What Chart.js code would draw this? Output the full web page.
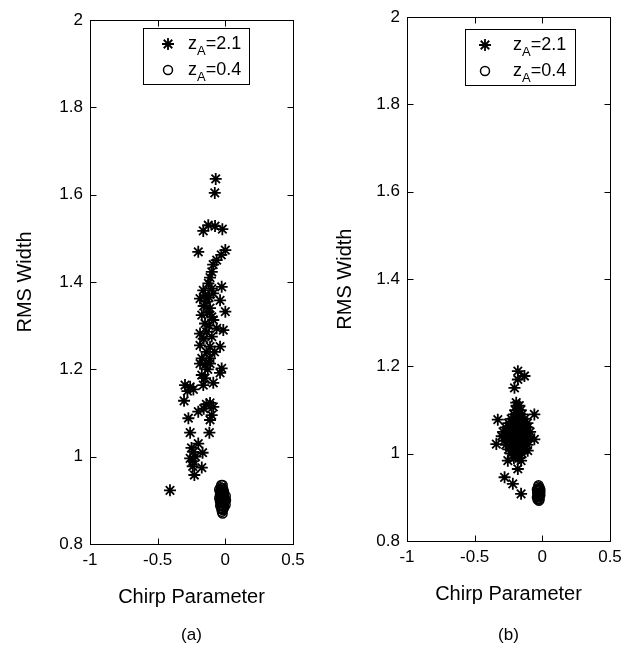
<!DOCTYPE html>
<html>
<head>
<meta charset="utf-8">
<script src="https://cdn.jsdelivr.net/npm/chart.js@4"></script>
<style>
  body { margin: 0; background: #fff; }
  .panel { position: absolute; top: 0; height: 646px; }
</style>
</head>
<body>
<div class="panel" style="left:0;width:316px"><canvas id="chartA" width="316" height="646"></canvas></div>
<div class="panel" style="left:316px;width:317px"><canvas id="chartB" width="317" height="646"></canvas></div>
<script>
const FONT = "'Liberation Sans', Arial, Helvetica, sans-serif";

// ============ DATA ============
const xTicks = [-1, -0.5, 0, 0.5];
const xTickLabels = ["-1", "-0.5", "0", "0.5"];
const yTicks = [0.8, 1, 1.2, 1.4, 1.6, 1.8, 2];
const yTickLabels = ["0.8", "1", "1.2", "1.4", "1.6", "1.8", "2"];
const seriesLabels = ["z_A=2.1", "z_A=0.4"];

// panel (a), z_A = 2.1
const starsA = [
  [-0.071, 1.636], [-0.078, 1.604],
  [-0.163, 1.517], [-0.126, 1.530], [-0.076, 1.528], [-0.022, 1.521],
  [-0.2, 1.469],
  [0.0, 1.473], [-0.03, 1.462], [-0.064, 1.45], [-0.09, 1.44], [-0.1, 1.423], [-0.113, 1.41], [-0.125, 1.397],
  [-0.163, 1.381], [-0.027, 1.389], [-0.089, 1.374], [-0.187, 1.362], [-0.138, 1.355], [-0.039, 1.358],
  [-0.113, 1.34], [0.0, 1.332], [-0.174, 1.324], [-0.089, 1.313], [-0.015, 1.29], [-0.187, 1.282],
  [-0.138, 1.286], [-0.064, 1.294], [-0.187, 1.255], [-0.113, 1.252], [-0.039, 1.252], [-0.174, 1.225],
  [-0.113, 1.225], [-0.027, 1.202],
  [-0.15, 1.37], [-0.12, 1.365], [-0.1, 1.385], [-0.16, 1.345], [-0.13, 1.33], [-0.1, 1.32],
  [-0.15, 1.305], [-0.12, 1.3], [-0.16, 1.27], [-0.1, 1.275], [-0.14, 1.24], [-0.08, 1.24], [-0.15, 1.21],
  [-0.187, 1.213], [-0.113, 1.213], [-0.174, 1.187], [-0.039, 1.192], [-0.298, 1.164], [-0.236, 1.154],
  [-0.163, 1.164], [-0.089, 1.169], [-0.28, 1.15], [-0.305, 1.128], [-0.113, 1.123], [-0.089, 1.114],
  [-0.2, 1.103], [-0.273, 1.088], [-0.101, 1.095], [-0.113, 1.084], [-0.26, 1.055], [-0.118, 1.055],
  [-0.2, 1.03], [-0.236, 1.011], [-0.168, 1.009], [-0.26, 0.996], [-0.241, 0.978], [-0.174, 0.975],
  [-0.229, 0.958], [-0.409, 0.923],
  [-0.13, 1.2], [-0.15, 1.18], [-0.26, 1.16], [-0.25, 1.02], [-0.22, 1.0], [-0.24, 0.99], [-0.16, 1.11], [-0.14, 1.12]
];

// panel (a), z_A = 0.4
const circlesA = [
  [-0.03, 0.935], [-0.02, 0.935], [-0.035, 0.93], [-0.025, 0.928], [-0.015, 0.925], [-0.035, 0.92],
  [-0.02, 0.918], [-0.04, 0.912], [-0.025, 0.91], [-0.01, 0.912], [-0.035, 0.905], [-0.02, 0.902],
  [-0.005, 0.905], [0.0, 0.898], [-0.04, 0.898], [-0.028, 0.895], [-0.012, 0.892], [0.002, 0.89],
  [-0.038, 0.888], [-0.022, 0.886], [-0.008, 0.884], [-0.03, 0.88], [-0.018, 0.878], [-0.025, 0.874],
  [-0.04, 0.92], [-0.03, 0.915], [0.005, 0.9], [-0.015, 0.898], [-0.03, 0.925], [-0.045, 0.905],
  [-0.01, 0.92], [-0.045, 0.925], [0.003, 0.91], [-0.02, 0.87],
  [-0.025, 0.92], [-0.015, 0.915], [-0.03, 0.9], [-0.02, 0.893], [-0.01, 0.9], [-0.025, 0.905],
  [-0.035, 0.912], [-0.015, 0.88], [-0.03, 0.888], [-0.02, 0.928], [-0.015, 0.908], [-0.025, 0.882]
];

// panel (b), z_A = 2.1
const starsB = [
  [-0.181, 1.189], [-0.132, 1.178], [-0.181, 1.170], [-0.206, 1.151], [-0.193, 1.117], [-0.329, 1.078],
  [-0.059, 1.090], [-0.34, 1.022], [-0.059, 1.033], [-0.108, 1.007], [-0.255, 0.984], [-0.157, 0.984],
  [-0.181, 0.965], [-0.279, 0.946], [-0.218, 0.931], [-0.157, 0.908],
  [-0.19, 1.11], [-0.17, 1.11],
  [-0.2, 1.10], [-0.18, 1.10], [-0.16, 1.10],
  [-0.21, 1.09], [-0.18, 1.09], [-0.15, 1.09],
  [-0.23, 1.08], [-0.2, 1.08], [-0.17, 1.08], [-0.13, 1.08],
  [-0.25, 1.07], [-0.21, 1.07], [-0.18, 1.07], [-0.14, 1.07], [-0.11, 1.07],
  [-0.27, 1.06], [-0.23, 1.06], [-0.19, 1.06], [-0.15, 1.06], [-0.11, 1.06],
  [-0.29, 1.05], [-0.25, 1.05], [-0.21, 1.05], [-0.17, 1.05], [-0.13, 1.05], [-0.09, 1.05],
  [-0.3, 1.04], [-0.26, 1.04], [-0.22, 1.04], [-0.18, 1.04], [-0.14, 1.04], [-0.1, 1.04],
  [-0.28, 1.03], [-0.24, 1.03], [-0.2, 1.03], [-0.16, 1.03], [-0.12, 1.03],
  [-0.27, 1.02], [-0.23, 1.02], [-0.19, 1.02], [-0.15, 1.02], [-0.11, 1.02],
  [-0.25, 1.01], [-0.21, 1.01], [-0.17, 1.01], [-0.13, 1.01],
  [-0.23, 1.0], [-0.19, 1.0], [-0.15, 1.0],
  [-0.21, 0.99], [-0.17, 0.99]
];

// panel (b), z_A = 0.4
const circlesB = [
  [-0.03, 0.925], [-0.02, 0.922], [-0.04, 0.918], [-0.025, 0.915], [-0.015, 0.912], [-0.038, 0.91],
  [-0.028, 0.906], [-0.018, 0.903], [-0.04, 0.9], [-0.03, 0.897], [-0.02, 0.895], [-0.032, 0.92],
  [-0.022, 0.91], [-0.035, 0.904], [-0.028, 0.928], [-0.025, 0.892],
  [-0.035, 0.915], [-0.025, 0.9], [-0.015, 0.905], [-0.03, 0.91], [-0.02, 0.915], [-0.035, 0.895],
  [-0.015, 0.918], [-0.025, 0.92], [-0.03, 0.903], [-0.02, 0.908]
];

// ============ PLUGINS ============
// box round the plot area with inward ticks on all four sides
const frameTicks = {
  id: "frameTicks",
  afterDraw(chart) {
    const { ctx, chartArea: a, scales } = chart;
    const L = Math.round(a.left) + 0.5, R = Math.round(a.right) + 0.5;
    const T = Math.round(a.top) + 0.5, B = Math.round(a.bottom) + 0.5;
    ctx.save();
    ctx.strokeStyle = "#000";
    ctx.lineWidth = 1;
    ctx.strokeRect(L, T, R - L, B - T);
    ctx.beginPath();
    scales.x.ticks.forEach((t) => {
      const px = Math.round(scales.x.getPixelForValue(t.value)) + 0.5;
      ctx.moveTo(px, B); ctx.lineTo(px, B - 6);
      ctx.moveTo(px, T); ctx.lineTo(px, T + 6);
    });
    scales.y.ticks.forEach((t) => {
      const py = Math.round(scales.y.getPixelForValue(t.value)) + 0.5;
      ctx.moveTo(L, py); ctx.lineTo(L + 6, py);
      ctx.moveTo(R, py); ctx.lineTo(R - 6, py);
    });
    ctx.stroke();
    ctx.restore();
  }
};

// legend with subscripted labels (z_A)
const subLegend = {
  id: "subLegend",
  afterDraw(chart, args, opts) {
    const { ctx } = chart;
    ctx.save();
    ctx.fillStyle = "#fff";
    ctx.fillRect(opts.x, opts.y, opts.w, opts.h);
    ctx.strokeStyle = "#000";
    ctx.lineWidth = 1;
    ctx.strokeRect(opts.x + 0.5, opts.y + 0.5, opts.w, opts.h);
    chart.data.datasets.forEach((ds, i) => {
      const cy = opts.y + 16 + i * 26;
      ctx.fillStyle = ds.backgroundColor;
      ctx.strokeStyle = ds.borderColor;
      ctx.lineWidth = ds.borderWidth;
      Chart.helpers.drawPoint(ctx, { pointStyle: ds.pointStyle, radius: ds.pointRadius, borderWidth: ds.borderWidth, rotation: 0 }, opts.x + opts.markX, cy);
      const [base, rest] = ds.label.split("_");
      const sub = rest[0], tail = rest.slice(1);
      const baseline = cy + 5;
      let tx = opts.x + opts.textX;
      ctx.fillStyle = "#000";
      ctx.textBaseline = "alphabetic";
      ctx.textAlign = "left";
      ctx.font = `18px ${FONT}`;
      ctx.fillText(base, tx, baseline);
      tx += ctx.measureText(base).width;
      ctx.font = `13px ${FONT}`;
      ctx.fillText(sub, tx, baseline + 6);
      tx += ctx.measureText(sub).width;
      ctx.font = `18px ${FONT}`;
      ctx.fillText(tail, tx, baseline);
    });
    ctx.restore();
  }
};

// ============ CHARTS ============
function makeChart(id, stars, circles, panel, g) {
  return new Chart(document.getElementById(id), {
    type: "scatter",
    data: {
      datasets: [
        {
          label: seriesLabels[0],
          data: stars.map(([x, y]) => ({ x, y })),
          pointStyle: "star",
          pointRadius: 6,
          borderColor: "#000",
          backgroundColor: "#000",
          borderWidth: 1.8,
        },
        {
          label: seriesLabels[1],
          data: circles.map(([x, y]) => ({ x, y })),
          pointStyle: "circle",
          pointRadius: 4.5,
          borderColor: "#000",
          backgroundColor: "rgba(0,0,0,0)",
          borderWidth: 1.5,
        }
      ]
    },
    options: {
      responsive: false,
      animation: false,
      devicePixelRatio: 1,
      layout: { padding: { top: g.top, right: g.right, left: 0, bottom: 0 } },
      plugins: {
        legend: { display: false },
        tooltip: { enabled: false },
        title: {
          display: true,
          text: panel,
          position: "bottom",
          fullSize: false,
          color: "#000",
          font: { family: FONT, size: 17, weight: "normal" },
          padding: { top: 4, bottom: 0 }
        },
        subLegend: g.legend
      },
      scales: {
        x: {
          type: "linear",
          min: -1,
          max: 0.5,
          afterBuildTicks: (s) => { s.ticks = xTicks.map((v) => ({ value: v })); },
          afterFit: (s) => { s.height = g.xh; },
          grid: { display: false, drawTicks: false },
          border: { display: false },
          ticks: {
            color: "#000",
            font: { family: FONT, size: 17 },
            padding: 6,
            maxRotation: 0,
            callback: (v, i) => xTickLabels[i]
          },
          title: {
            display: true,
            text: "Chirp Parameter",
            color: "#000",
            font: { family: FONT, size: 20 },
            padding: { top: 0, bottom: g.xtPad }
          }
        },
        y: {
          type: "linear",
          min: 0.8,
          max: 2,
          afterBuildTicks: (s) => { s.ticks = yTicks.map((v) => ({ value: v })); },
          afterFit: (s) => { s.width = g.yw; },
          grid: { display: false, drawTicks: false },
          border: { display: false },
          ticks: {
            color: "#000",
            font: { family: FONT, size: 17 },
            padding: 7,
            callback: (v, i) => yTickLabels[i]
          },
          title: {
            display: true,
            text: "RMS Width",
            color: "#000",
            font: { family: FONT, size: 20 },
            padding: { top: g.ytPad, bottom: 0 }
          }
        }
      }
    },
    plugins: [frameTicks, subLegend]
  });
}

makeChart("chartA", starsA, circlesA, "(a)", {
  top: 20, right: 23, yw: 90, xh: 77.6, xtPad: 12.6, ytPad: 13,
  legend: { x: 143, y: 28, w: 106, h: 56, markX: 25, textX: 45 }
});
makeChart("chartB", starsB, circlesB, "(b)", {
  top: 14, right: 23, yw: 91, xh: 80.6, xtPad: 15.6, ytPad: 17,
  legend: { x: 149, y: 29, w: 110, h: 56, markX: 20, textX: 48 }
});
</script>
</body>
</html>
